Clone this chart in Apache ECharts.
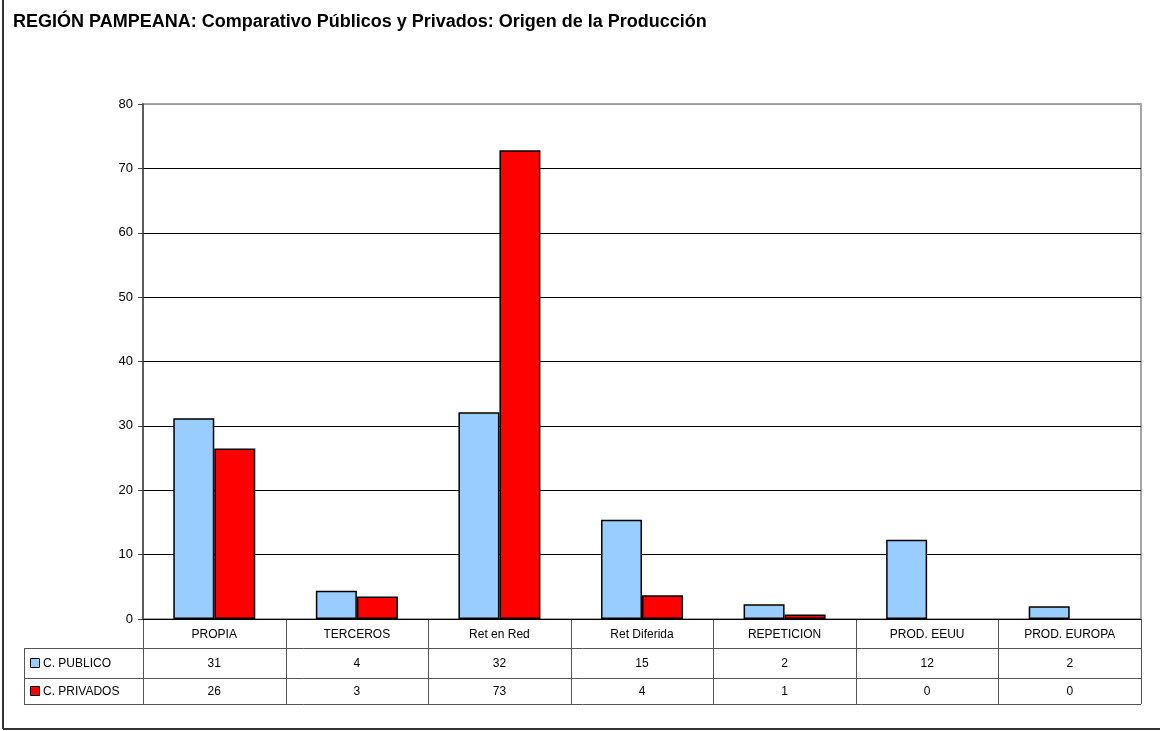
<!DOCTYPE html>
<html>
<head>
<meta charset="utf-8">
<script src="https://cdn.jsdelivr.net/npm/echarts@6/dist/echarts.min.js"></script>
<style>
html,body{margin:0;padding:0;background:#fff;}
#chart{width:1160px;height:731px;}
</style>
</head>
<body>
<div id="chart"></div>
<script>
var titleText = 'REGIÓN PAMPEANA: Comparativo Públicos y Privados: Origen de la Producción';
var categories = ['PROPIA', 'TERCEROS', 'Ret en Red', 'Ret Diferida', 'REPETICION', 'PROD. EEUU', 'PROD. EUROPA'];
var seriesNames = ['C. PUBLICO', 'C. PRIVADOS'];
var publico = [31.2, 4.4, 32.1, 15.4, 2.3, 12.3, 2.0];
var privados = [26.5, 3.5, 72.8, 3.7, 0.7, 0, 0];
var tablePublico = [31, 4, 32, 15, 2, 12, 2];
var tablePrivados = [26, 3, 73, 4, 1, 0, 0];
var colors = ['#99CCFF', '#FF0000'];

var chart = echarts.init(document.getElementById('chart'));
var gridLeft = 143, gridRight = 19, gridTop = 104, gridBottom = 112;
var font = '"Liberation Sans", Arial, sans-serif';

function barData(arr) {
  return arr.map(function (v) {
    return v === 0 ? {value: v, itemStyle: {borderWidth: 0}} : v;
  });
}

chart.setOption({
  animation: false,
  backgroundColor: '#fff',
  title: {
    text: titleText, left: 8, top: 8,
    textStyle: {fontFamily: font, fontSize: 18, fontWeight: 'bold', color: '#000'}
  },
  grid: {left: gridLeft, right: gridRight, top: gridTop, bottom: gridBottom, show: true, borderColor: '#888', borderWidth: 1.5},
  xAxis: {
    type: 'category', data: categories,
    axisLine: {lineStyle: {color: '#000', width: 1}},
    axisTick: {show: false},
    axisLabel: {show: false}
  },
  yAxis: {
    type: 'value', min: 0, max: 80, interval: 10,
    axisLine: {show: true, lineStyle: {color: '#444', width: 1.5}},
    axisTick: {show: true, length: 5, lineStyle: {color: '#444'}},
    axisLabel: {fontFamily: font, fontSize: 13, color: '#000', margin: 10},
    splitLine: {lineStyle: {color: ['#000', '#000', '#000', '#000', '#000', '#000', '#000', '#000', '#999'], width: 1}}
  },
  series: [
    {name: seriesNames[0], type: 'bar', data: barData(publico), barWidth: 41, barGap: '0%',
     itemStyle: {color: colors[0], borderColor: '#000', borderWidth: 1.5}},
    {name: seriesNames[1], type: 'bar', data: barData(privados), barWidth: 41, barGap: '0%',
     itemStyle: {color: colors[1], borderColor: '#000', borderWidth: 1.5}}
  ]
});

// data table below the plot
var x0 = gridLeft, x1 = 1160 - gridRight, yAxisBase = 731 - gridBottom;
var catW = (x1 - x0) / categories.length;
var rowY = [yAxisBase, 648, 678, 704];
var tableLeft = 24;
var els = [];
var lineStyle = {stroke: '#555', lineWidth: 1};
for (var r = 1; r < rowY.length; r++) {
  els.push({type: 'line', shape: {x1: tableLeft, y1: rowY[r] + 0.5, x2: x1, y2: rowY[r] + 0.5}, style: lineStyle, silent: true});
}
for (var k = 0; k <= categories.length; k++) {
  var xx = Math.round(x0 + k * catW) + 0.5;
  els.push({type: 'line', shape: {x1: xx, y1: yAxisBase, x2: xx, y2: rowY[3]}, style: lineStyle, silent: true});
}
els.push({type: 'line', shape: {x1: tableLeft + 0.5, y1: rowY[1], x2: tableLeft + 0.5, y2: rowY[3]}, style: lineStyle, silent: true});

function txt(x, y, s, align) {
  return {type: 'text', x: x, y: y, silent: true,
    style: {text: s, fontFamily: font, fontSize: 12, fill: '#000', align: align || 'center', verticalAlign: 'middle'}};
}
var rowsVals = [tablePublico, tablePrivados];
for (var i = 0; i < categories.length; i++) {
  var cx = chart.convertToPixel({xAxisIndex: 0}, categories[i]);
  els.push(txt(cx, (rowY[0] + rowY[1]) / 2 + 1, categories[i]));
  els.push(txt(cx, (rowY[1] + rowY[2]) / 2 + 1, String(rowsVals[0][i])));
  els.push(txt(cx, (rowY[2] + rowY[3]) / 2 + 1, String(rowsVals[1][i])));
}
for (var s = 0; s < 2; s++) {
  var ym = (rowY[s + 1] + rowY[s + 2]) / 2;
  els.push({type: 'rect', shape: {x: 30.5, y: ym - 4.5, width: 9, height: 9},
    style: {fill: colors[s], stroke: '#000', lineWidth: 1}, silent: true});
  els.push(txt(43, ym + 1, seriesNames[s], 'left'));
}
// outer frame (cropped at top and right)
els.push({type: 'line', shape: {x1: 3, y1: 0, x2: 3, y2: 729}, style: {stroke: '#333', lineWidth: 2}, silent: true});
els.push({type: 'line', shape: {x1: 3, y1: 729, x2: 1160, y2: 729}, style: {stroke: '#333', lineWidth: 2}, silent: true});

chart.setOption({graphic: {elements: els}});
</script>
</body>
</html>
